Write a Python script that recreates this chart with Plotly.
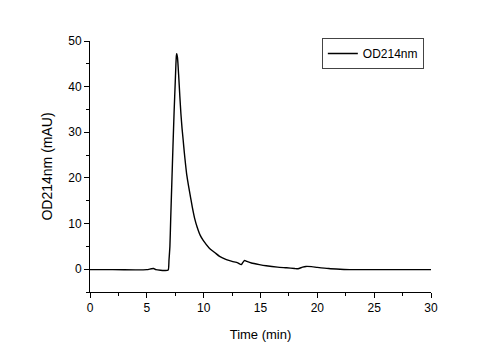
import plotly.graph_objects as go

time_min = [0, 2, 4, 5, 5.4, 5.6, 5.8, 6.2, 6.6, 6.88, 6.95, 7.03, 7.1, 7.2, 7.3, 7.4, 7.5, 7.56, 7.6, 7.63,
            7.7, 7.8, 7.9, 8.0, 8.1, 8.2, 8.3, 8.4, 8.5, 8.6, 8.7, 8.8, 8.9, 9.0, 9.2, 9.43, 9.7, 9.96,
            10.5, 11.0, 11.4, 12.0, 12.5, 13.0, 13.3, 13.45, 13.6, 13.8, 14.2, 14.9, 15.5, 16.5, 17.3,
            18.0, 18.3, 18.7, 19.0, 19.5, 20.0, 21, 22, 23, 25, 27, 30]
od214 = [-0.1, -0.1, -0.15, -0.1, 0.1, 0.15, -0.1, -0.25, -0.3, -0.2, 2, 5, 11, 19, 27, 34.5, 41, 45, 46.8, 47.2,
         46.3, 42.5, 38, 34, 30.8, 28.2, 25.5, 23.1, 20.9, 19.3, 17.8, 16.4, 15, 13.6, 11.2, 9.2, 7.4, 6.3,
         4.6, 3.6, 2.8, 2.1, 1.7, 1.4, 1.0, 1.5, 1.9, 1.7, 1.35, 1.0, 0.75, 0.45, 0.3,
         0.15, 0.1, 0.45, 0.6, 0.55, 0.4, 0.15, 0.0, -0.1, -0.1, -0.1, -0.1]

x_ticks = [0, 5, 10, 15, 20, 25, 30]
y_ticks = [0, 10, 20, 30, 40, 50]

fig = go.Figure()
fig.add_trace(go.Scatter(x=time_min, y=od214, mode="lines", name="OD214nm",
                         line=dict(color="black", width=1.4, shape="spline", smoothing=0.5)))

axis_common = dict(showline=True, linecolor="black", linewidth=1, ticks="outside", ticklen=5,
                   tickwidth=1, tickcolor="black", showgrid=False, zeroline=False, automargin=False,
                   tickfont=dict(family="Liberation Sans, Arial", size=12, color="black"),
                   minor=dict(ticks="outside", ticklen=3, tickcolor="black", tickwidth=1, showgrid=False))

fig.update_layout(
    width=501, height=350,
    margin=dict(l=90, r=70, t=41, b=58),
    paper_bgcolor="white", plot_bgcolor="white",
    font=dict(family="Liberation Sans, Arial", color="black"),
    xaxis=dict(range=[0, 30], tickvals=x_ticks, **axis_common,
               title=dict(text="Time (min)", font=dict(size=13), standoff=15)),
    yaxis=dict(range=[-5, 50], tickvals=y_ticks, **axis_common,
               title=dict(text="OD214nm (mAU)", font=dict(size=14), standoff=12)),
    showlegend=True,
    legend=dict(x=0.979, y=1.012, xanchor="right", yanchor="top", bgcolor="white",
                bordercolor="#444", borderwidth=1, font=dict(size=12),
                itemwidth=30, tracegroupgap=0),
)
fig.update_xaxes(minor_dtick=2.5)
fig.update_yaxes(minor_dtick=5)

fig.write_html("out.html")
